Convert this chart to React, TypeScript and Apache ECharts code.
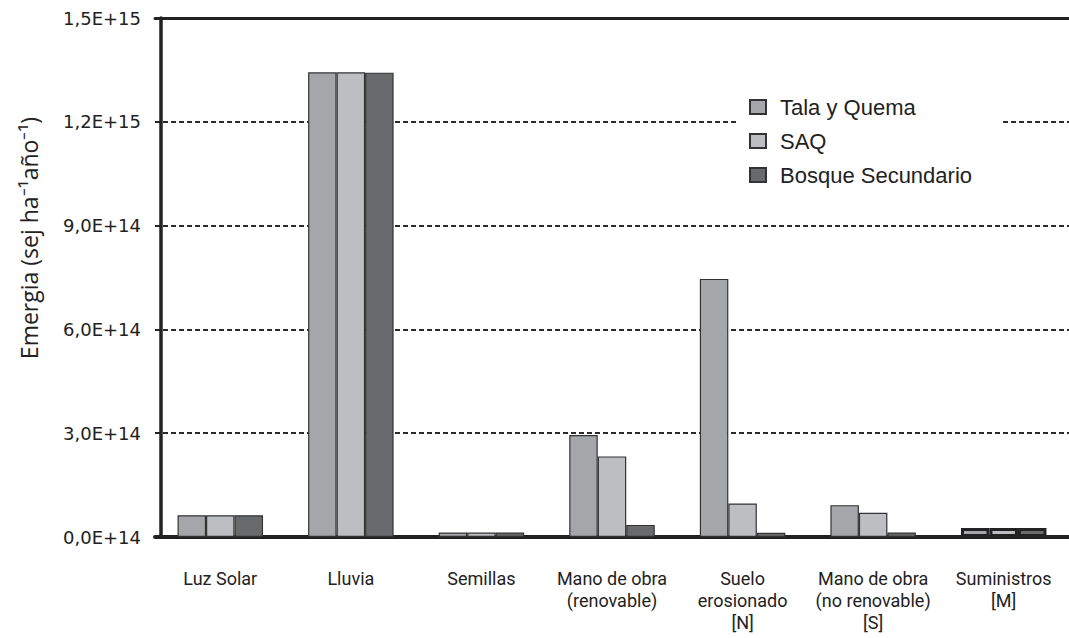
import React, { useEffect, useRef } from "react";
import * as echarts from "echarts";

const categories = [
  "Luz Solar",
  "Lluvia",
  "Semillas",
  "Mano de obra\n(renovable)",
  "Suelo\nerosionado\n[N]",
  "Mano de obra\n(no renovable)\n[S]",
  "Suministros\n[M]",
];
const seriesNames = ["Tala y Quema", "SAQ", "Bosque Secundario"];
const talaYQuema = [6.3e13, 1.343e15, 1.3e13, 2.95e14, 7.46e14, 9.2e13, 2.6e13];
const saq = [6.3e13, 1.343e15, 1.3e13, 2.33e14, 9.7e13, 7.0e13, 2.6e13];
const bosqueSecundario = [6.3e13, 1.342e15, 1.3e13, 3.5e13, 1.2e13, 1.3e13, 2.6e13];
const yTickLabels = ["0,0E+14", "3,0E+14", "6,0E+14", "9,0E+14", "1,2E+15", "1,5E+15"];
const colors = ["#a5a6a9", "#bdbec1", "#686a6c"];

export default function App() {
  const ref = useRef<HTMLDivElement>(null);
  useEffect(() => {
    if (!ref.current) return;
    const chart = echarts.init(ref.current, undefined, { renderer: "svg" });
    const values = [talaYQuema, saq, bosqueSecundario];
    const option: any = {
      animation: false,
      backgroundColor: "#ffffff",
      grid: { left: 155, top: 18, width: 931, height: 519, containLabel: false },
      legend: {
        orient: "vertical",
        left: 738,
        top: 88,
        padding: [8, 30, 8, 11],
        backgroundColor: "#ffffff",
        itemWidth: 16,
        itemHeight: 14,
        itemGap: 12,
        icon: "rect",
        data: seriesNames,
        textStyle: {
          fontFamily: "'Liberation Sans', Arial, sans-serif",
          fontSize: 22,
          lineHeight: 20,
          color: "#222",
          padding: [0, 0, 0, 9],
        },
      },
      xAxis: [
        {
          type: "category",
          data: categories,
          position: "bottom",
          axisLine: { show: true, lineStyle: { color: "#222", width: 4 } },
          axisTick: { show: false },
          axisLabel: {
            interval: 0,
            margin: 30,
            fontFamily: "Roboto",
            fontSize: 18,
            lineHeight: 22,
            color: "#222",
            align: "center",
          },
          splitLine: { show: false },
        },
        {
          type: "category",
          data: categories,
          position: "top",
          axisLine: { show: true, lineStyle: { color: "#222", width: 3 } },
          axisTick: { show: false },
          axisLabel: { show: false },
          splitLine: { show: false },
        },
      ],
      yAxis: {
        type: "value",
        min: 0,
        max: 1.5e15,
        interval: 3e14,
        offset: -6,
        axisLine: { show: true, lineStyle: { color: "#222", width: 3.5 } },
        axisTick: { show: true, length: 6, inside: false, lineStyle: { color: "#222", width: 1.5 } },
        axisLabel: {
          margin: 20,
          fontFamily: "'DejaVu Sans'",
          fontSize: 18,
          color: "#222",
          formatter: (_v: number, idx: number) => yTickLabels[idx],
        },
        splitLine: {
          show: true,
          lineStyle: { color: "#2a2a2a", width: 2, type: [5, 3] },
        },
      },
      graphic: [
        {
          type: "text",
          x: 29,
          y: 238,
          rotation: Math.PI / 2,
          style: {
            text: "Emergia (sej ha\u207B\u00B9año\u207B\u00B9)",
            fontFamily: "'Open Sans'",
            fontSize: 23,
            fill: "#222",
            align: "center",
            verticalAlign: "middle",
          },
        },
      ],
      series: seriesNames.map((name, si) => ({
        name,
        type: "bar",
        barWidth: 28.5,
        barGap: "0%",
        itemStyle: { color: colors[si], borderColor: "#333", borderWidth: 1.2 },
        data: values[si].map((v, i) =>
          i === 6
            ? { value: v, itemStyle: { borderWidth: 3, borderColor: "#222" } }
            : v
        ),
      })),
    };
    chart.setOption(option);
    return () => chart.dispose();
  }, []);
  return (
    <div
      ref={ref}
      style={{ position: "absolute", left: 0, top: 0, width: 1069, height: 638 }}
    />
  );
}
